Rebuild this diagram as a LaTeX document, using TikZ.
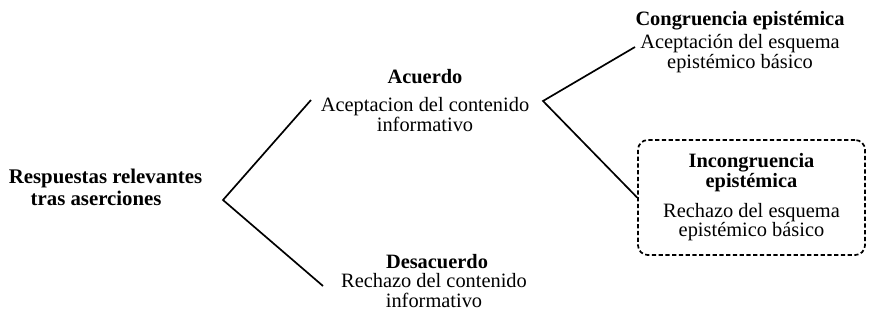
\documentclass[tikz,border=0pt]{standalone}
\usepackage{fontspec}
\setmainfont{Liberation Serif}
\usetikzlibrary{positioning}

\begin{document}
\begin{tikzpicture}[x=0.025cm, y=-0.025cm, line width=1.2pt,
  every node/.style={inner sep=0pt, align=center, font=\fontsize{14.5}{14}\selectfont},
  title/.style={font=\fontsize{14.5}{14.5}\selectfont\bfseries},
  dashbox/.style={draw, dash pattern=on 3pt off 1.8pt, rounded corners=7pt,
    minimum width=5.675cm, minimum height=2.875cm}]
\useasboundingbox (0,0) rectangle (870,324);

% root
\node[title, font=\fontsize{14.8}{15.6}\selectfont\bfseries, align=left, anchor=base west] (resp) at (8,205)
  {Respuestas relevantes\\\hspace*{1.05em}tras aserciones};

% first level
\node[title, anchor=base] (acuerdo) at (425,83) {Acuerdo};
\node[anchor=base] (acuerdo-txt) at (425,131) {Aceptacion del contenido\\informativo};
\node[title, anchor=base] (desacuerdo) at (437,268) {Desacuerdo};
\node[anchor=base] (desacuerdo-txt) at (434,307) {Rechazo del contenido\\informativo};

% second level
\node[title, anchor=base] (congr) at (740,25) {Congruencia epistémica};
\node[anchor=base] (congr-txt) at (740,68) {Aceptación del esquema\\epistémico básico};
\node[dashbox] (incongr) at (751.5,197.5)
  {\textbf{Incongruencia}\\\textbf{epistémica}\\[7pt]Rechazo del esquema\\epistémico básico};

% branches
\coordinate (root) at (223,200);
\coordinate (acuerdo-end) at (311,100);
\coordinate (desacuerdo-end) at (323,286);
\coordinate (split) at (543,101);
\coordinate (congr-end) at (635,47);
\draw (acuerdo-end) -- (root) -- (desacuerdo-end);
\draw (congr-end) -- (split) -- (incongr.west);
\end{tikzpicture}
\end{document}
